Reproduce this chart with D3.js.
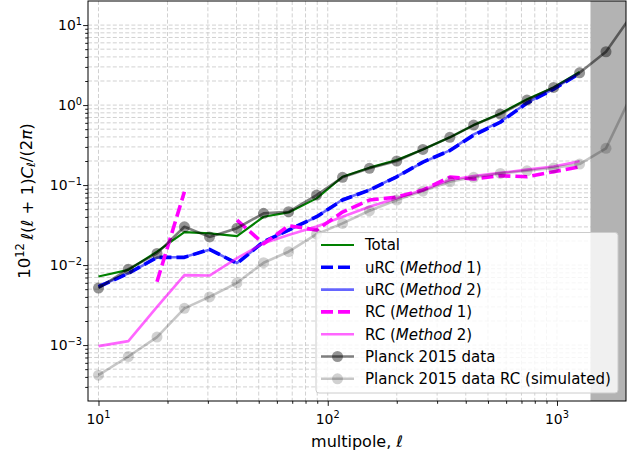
<!DOCTYPE html>
<html>
<head>
<meta charset="utf-8">
<script src="https://cdn.jsdelivr.net/npm/d3@7"></script>
<style>
  body { margin: 0; background: #fff; }
  svg { display: block; font-family: "DejaVu Sans", sans-serif; }
</style>
</head>
<body>
<svg id="chart" width="640" height="456"></svg>
<script>
// Multipole bin centres
const ell = [10, 13.5, 18, 23.7, 30.5, 40.2, 52.5, 67.5, 89.4, 116, 152, 200, 260, 341, 433, 566, 740, 967, 1255, 1636, 2131];

// 10^12 l(l+1)C_l/(2pi) per bin
const planckData  = [0.00516, 0.0089, 0.0140, 0.0301, 0.0225, 0.0289, 0.0443, 0.0464, 0.075, 0.125, 0.162, 0.2, 0.279, 0.395, 0.562, 0.772, 1.155, 1.66, 2.53, 4.64, 13.7];
const planckRCSim = [0.00042, 0.00072, 0.00126, 0.00288, 0.0040, 0.0060, 0.0107, 0.0147, 0.0244, 0.0332, 0.0477, 0.065, 0.084, 0.11, 0.125, 0.14, 0.151, 0.164, 0.183, 0.288, 1.4];
const total       = [0.0072, 0.0087, 0.0147, 0.0258, 0.0249, 0.023, 0.0402, 0.0455, 0.0682, 0.127, 0.165, 0.205, 0.279, 0.395, 0.562, 0.787, 1.18, 1.66, 2.6];
const urcMethod1  = [0.00536, 0.00787, 0.0125, 0.0125, 0.0157, 0.0105, 0.0196, 0.0274, 0.0402, 0.065, 0.0866, 0.127, 0.194, 0.27, 0.42, 0.61, 1.06, 1.58, 2.49];
const urcMethod2  = [0.00540, 0.00790, 0.0124, 0.0126, 0.0156, 0.0106, 0.0194, 0.0272, 0.0400, 0.066, 0.0870, 0.128, 0.192, 0.272, 0.43, 0.62, 1.07, 1.60, 2.50];
const rcMethod1   = [null, null, 0.0062, 0.0825, null, 0.0365, 0.0185, 0.031, 0.0274, 0.046, 0.065, 0.0708, 0.0866, 0.126, 0.119, 0.131, 0.127, 0.147, 0.169];
const rcMethod2   = [0.00097, 0.00112, 0.0030, 0.0075, 0.0074, 0.0122, 0.0188, 0.0237, 0.0303, 0.0402, 0.0537, 0.0685, 0.0866, 0.116, 0.13, 0.142, 0.156, 0.171, 0.198];

const xTicks = [10, 100, 1000];
const yTicks = [1e-3, 1e-2, 1e-1, 1, 10];
const xDomain = [9, 2000];
const yDomain = [2e-4, 20];
const shadeFrom = 1400;

const svg = d3.select("#chart");
const L = 88, R = 626, T = 1, B = 401;

const x = d3.scaleLog().domain(xDomain).range([L, R]);
const y = d3.scaleLog().domain(yDomain).range([B, T]);

// minor positions (k * 10^n) strictly inside the domain
function logMinors(domain) {
  const out = [];
  const lo = Math.floor(Math.log10(domain[0])), hi = Math.ceil(Math.log10(domain[1]));
  for (let n = lo; n <= hi; n++) {
    for (let k = 1; k <= 9; k++) {
      const v = k * Math.pow(10, n);
      if (v > domain[0] * 1.0001 && v < domain[1] * 0.9999) out.push(v);
    }
  }
  return out;
}
const xGrid = logMinors(xDomain);
const yGrid = logMinors(yDomain);

svg.append("defs").append("clipPath").attr("id", "plotClip")
  .append("rect").attr("x", L).attr("y", T).attr("width", R - L).attr("height", B - T);

// grid
const grid = svg.append("g").attr("stroke", "#cccccc").attr("stroke-width", 0.9)
  .attr("stroke-dasharray", "4,2.2");
grid.selectAll("line.gx").data(xGrid).join("line").attr("class", "gx")
  .attr("x1", d => x(d)).attr("x2", d => x(d)).attr("y1", T).attr("y2", B);
grid.selectAll("line.gy").data(yGrid).join("line").attr("class", "gy")
  .attr("x1", L).attr("x2", R).attr("y1", d => y(d)).attr("y2", d => y(d));

// excluded high-multipole band
svg.append("rect").attr("x", x(shadeFrom)).attr("y", T)
  .attr("width", R - x(shadeFrom)).attr("height", B - T).attr("fill", "#b3b3b3");

const plot = svg.append("g").attr("clip-path", "url(#plotClip)");

const series = [
  { label: ["Total"], values: total, color: "#008000", width: 2.2, opacity: 1, dash: null },
  { label: ["uRC (", "Method", " 1)"], values: urcMethod1, color: "#0000ff", width: 3.6, opacity: 1, dash: "12,5" },
  { label: ["uRC (", "Method", " 2)"], values: urcMethod2, color: "#0000ff", width: 2.6, opacity: 0.6, dash: null },
  { label: ["RC (", "Method", " 1)"], values: rcMethod1, color: "#ff00ff", width: 3.6, opacity: 1, dash: "12,5" },
  { label: ["RC (", "Method", " 2)"], values: rcMethod2, color: "#ff00ff", width: 2.6, opacity: 0.6, dash: null },
  { label: ["Planck 2015 data"], values: planckData, color: "#000", width: 2.6, opacity: 0.5, dash: null, marker: 0.42 },
  { label: ["Planck 2015 data RC (simulated)"], values: planckRCSim, color: "#000", width: 2.6, opacity: 0.22, dash: null, marker: 0.18 }
];

const line = d3.line()
  .defined(d => d[1] != null)
  .x(d => x(d[0])).y(d => y(d[1]));

series.forEach(s => {
  const pts = s.values.map((v, i) => [ell[i], v]);
  plot.append("path").datum(pts)
    .attr("d", line)
    .attr("fill", "none")
    .attr("stroke", s.color)
    .attr("stroke-opacity", s.opacity)
    .attr("stroke-width", s.width)
    .attr("stroke-dasharray", s.dash)
    .attr("stroke-linejoin", "round");
  if (s.marker) {
    plot.selectAll(null).data(pts.filter(d => d[1] != null)).join("circle")
      .attr("cx", d => x(d[0])).attr("cy", d => y(d[1])).attr("r", 5.5)
      .attr("fill", s.color).attr("fill-opacity", s.marker);
  }
});

// frame
svg.append("rect").attr("x", L).attr("y", T).attr("width", R - L).attr("height", B - T)
  .attr("fill", "none").attr("stroke", "#000").attr("stroke-width", 1);

// axes ticks
const xAxis = svg.append("g").attr("transform", `translate(0,${B})`)
  .call(d3.axisBottom(x).tickValues(xTicks).tickSize(4.9).tickFormat(""));
const xAxisMinor = svg.append("g").attr("transform", `translate(0,${B})`)
  .call(d3.axisBottom(x).tickValues(xGrid.filter(v => !xTicks.includes(v))).tickSize(2.8).tickFormat(""));
const yAxis = svg.append("g").attr("transform", `translate(${L},0)`)
  .call(d3.axisLeft(y).tickValues(yTicks).tickSize(4.9).tickFormat(""));
const yAxisMinor = svg.append("g").attr("transform", `translate(${L},0)`)
  .call(d3.axisLeft(y).tickValues(yGrid.filter(v => !yTicks.some(t => Math.abs(t - v) / t < 1e-6))).tickSize(2.8).tickFormat(""));
[xAxis, xAxisMinor, yAxis, yAxisMinor].forEach(g => {
  g.select(".domain").remove();
  g.selectAll(".tick line").attr("stroke", "#000").attr("stroke-width", 0.9);
});

function powLabel(sel, v) {
  const e = Math.round(Math.log10(v));
  sel.append("tspan").text("10");
  sel.append("tspan").attr("dy", "-0.55em").attr("font-size", "9.8px")
    .text(e < 0 ? "\u2212" + (-e) : String(e));
}

svg.append("g").selectAll("text").data(xTicks).join("text")
  .attr("x", d => x(d)).attr("y", 423.5).attr("text-anchor", "middle")
  .attr("font-size", "13.9px").attr("fill", "#000")
  .each(function (d) { powLabel(d3.select(this), d); });

svg.append("g").selectAll("text").data(yTicks).join("text")
  .attr("x", 82).attr("y", d => y(d) + 5).attr("text-anchor", "end")
  .attr("font-size", "13.9px").attr("fill", "#000")
  .each(function (d) { powLabel(d3.select(this), d); });

// axis titles
const xt = svg.append("text").attr("x", (L + R) / 2).attr("y", 446.5)
  .attr("text-anchor", "middle").attr("font-size", "16px").attr("fill", "#000");
xt.append("tspan").text("multipole, ");
xt.append("tspan").attr("font-style", "italic").text("\u2113");

const yt = svg.append("text").attr("transform", `translate(30,${(T + B) / 2}) rotate(-90)`)
  .attr("text-anchor", "middle").attr("font-size", "16.5px").attr("fill", "#000");
yt.append("tspan").text("10");
yt.append("tspan").attr("dy", "-0.5em").attr("font-size", "11.5px").text("12");
yt.append("tspan").attr("dy", "0.5em").text("\u2009");
yt.append("tspan").attr("font-style", "italic").text("\u2113");
yt.append("tspan").text("(");
yt.append("tspan").attr("font-style", "italic").text("\u2113");
yt.append("tspan").text(" + 1)");
yt.append("tspan").attr("font-style", "italic").text("C");
yt.append("tspan").attr("dy", "0.25em").attr("font-size", "11.5px").attr("font-style", "italic").text("\u2113");
yt.append("tspan").attr("dy", "-0.18em").text("/(2");
yt.append("tspan").attr("font-style", "italic").text("\u03c0");
yt.append("tspan").text(")");

// legend
const lg = svg.append("g");
const lgX = 316, lgY = 232.5, lgW = 302, lgH = 160.5;
lg.append("rect").attr("x", lgX).attr("y", lgY).attr("width", lgW).attr("height", lgH)
  .attr("rx", 3).attr("fill", "#fff").attr("fill-opacity", 0.8)
  .attr("stroke", "#cccccc").attr("stroke-width", 1);

series.forEach((s, i) => {
  const cy = 245 + i * 22.3;
  lg.append("line").attr("x1", 321).attr("x2", 354).attr("y1", cy).attr("y2", cy)
    .attr("stroke", s.color).attr("stroke-opacity", s.opacity)
    .attr("stroke-width", s.width).attr("stroke-dasharray", s.dash);
  if (s.marker) {
    lg.append("circle").attr("cx", 337.5).attr("cy", cy).attr("r", 5.5)
      .attr("fill", s.color).attr("fill-opacity", s.marker);
  }
  const t = lg.append("text").attr("x", 365).attr("y", cy + 5.3)
    .attr("font-size", "15px").attr("fill", "#000");
  s.label.forEach((part, j) => {
    t.append("tspan").attr("font-style", part === "Method" ? "italic" : null).text(part);
  });
});
</script>
</body>
</html>
